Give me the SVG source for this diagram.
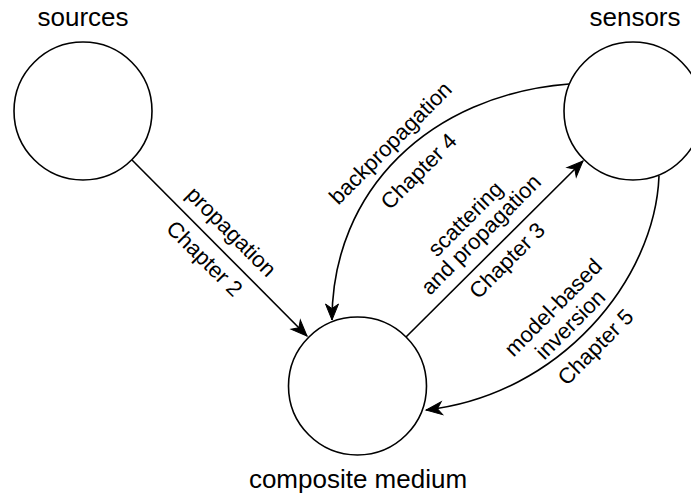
<svg xmlns="http://www.w3.org/2000/svg" width="691" height="498" viewBox="0 0 691 498">
<style>
.node{fill:#fff;stroke:#000;stroke-width:1.6}
.edge{fill:none;stroke:#000;stroke-width:1.6}
.nl{font-family:"Liberation Sans",Arial,sans-serif;font-size:26px;fill:#000;text-anchor:middle}
.el{font-family:"Liberation Sans",Arial,sans-serif;font-size:22px;fill:#000;text-anchor:middle}
</style>
<defs>
<marker id="arr" markerUnits="userSpaceOnUse" markerWidth="20" markerHeight="16" viewBox="-18 -8 20 16" refX="0" refY="0" orient="auto">
<path d="M0,0 L-16,-6.5 L-11.5,0 L-16,6.5 Z" fill="#000" stroke="#000" stroke-width="1"/>
</marker>
</defs>
<rect width="691" height="498" fill="#fff"/>
<g id="sources">
<circle class="node" cx="83" cy="111" r="69"/>
<text class="nl" x="83" y="26">sources</text>
</g>
<g id="sensors">
<circle class="node" cx="633" cy="111" r="69"/>
<text class="nl" x="635" y="26">sensors</text>
</g>
<g id="composite">
<circle class="node" cx="357.5" cy="386" r="69"/>
<text class="nl" x="358" y="488">composite medium</text>
</g>
<g id="connectors">
<path class="edge" d="M132,160 L307,336" marker-end="url(#arr)"/>
<path class="edge" d="M406,337 L583,161" marker-end="url(#arr)"/>
<path class="edge" d="M569,84 C430,95 332,190 332,320" marker-end="url(#arr)"/>
<path class="edge" d="M659,176 C655,280 560,395 426,410" marker-end="url(#arr)"/>
<g transform="translate(216.5,246.5) rotate(45)">
<text class="el" x="0" y="-13.5">propagation</text>
<text class="el" x="0" y="24.5">Chapter 2</text>
</g>
<g transform="translate(495,248.5) rotate(-45)">
<text class="el" x="0" y="-34.5">scattering</text>
<text class="el" x="0" y="-12.5">and propagation</text>
<text class="el" x="0" y="24.5">Chapter 3</text>
</g>
<g transform="translate(406,158.5) rotate(-45)">
<text class="el" x="0" y="-14.5">backpropagation</text>
<text class="el" x="0" y="25.5">Chapter 4</text>
</g>
<g transform="translate(574,324) rotate(-45)">
<text class="el" x="-3" y="-19">model-based</text>
<text class="el" x="-3" y="5">inversion</text>
<text class="el" x="-1" y="39">Chapter 5</text>
</g>
</g>
</svg>
